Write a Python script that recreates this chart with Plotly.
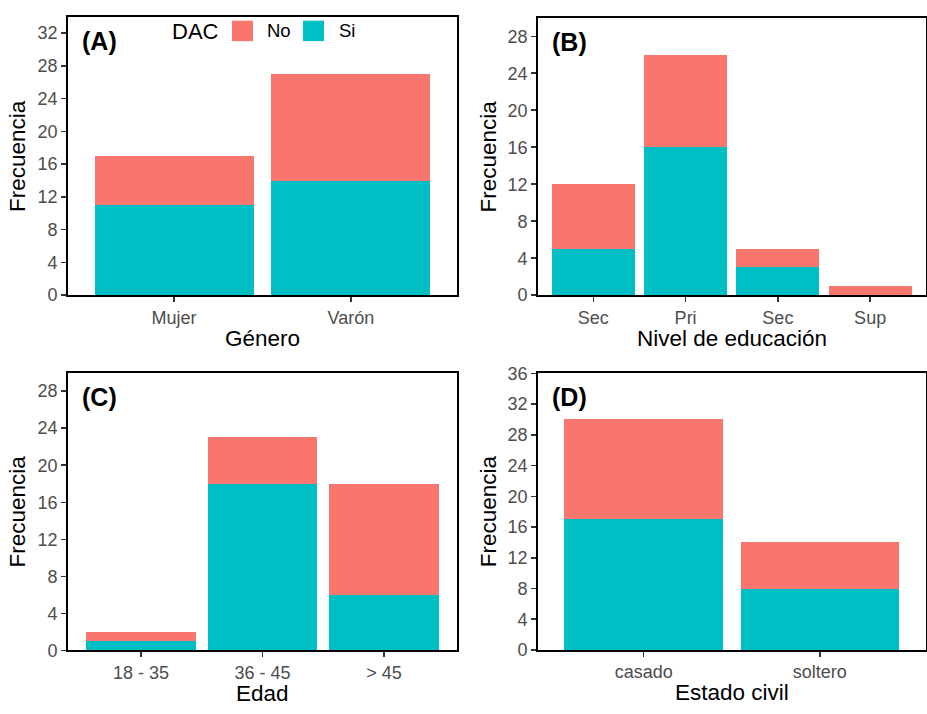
import plotly.graph_objects as go

# ---- data ----
genero_cats = ["Mujer", "Varón"]
genero_si = [11, 14]
genero_no = [6, 13]

educ_cats = ["Sec", "Pri", "Sec", "Sup"]
educ_si = [5, 16, 3, 0]
educ_no = [7, 10, 2, 1]

edad_cats = ["18 - 35", "36 - 45", "> 45"]
edad_si = [1, 18, 6]
edad_no = [1, 5, 12]

civil_cats = ["casado", "soltero"]
civil_si = [17, 8]
civil_no = [13, 6]

y_ticks_A = [0, 4, 8, 12, 16, 20, 24, 28, 32]
y_ticks_B = [0, 4, 8, 12, 16, 20, 24, 28]
y_ticks_C = [0, 4, 8, 12, 16, 20, 24, 28]
y_ticks_D = [0, 4, 8, 12, 16, 20, 24, 28, 32, 36]

COL_NO = "#F8766D"
COL_SI = "#00BFC4"
FONT = "Liberation Sans, Arial, sans-serif"
W, H = 927, 714

panels = [
    dict(cats=genero_cats, si=genero_si, no=genero_no, yt=y_ticks_A, ymax=34,
         box=(68, 457, 8, 294), label="(A)", xtitle="Género"),
    dict(cats=educ_cats, si=educ_si, no=educ_no, yt=y_ticks_B, ymax=30,
         box=(538, 925.5, 9, 294), label="(B)", xtitle="Nivel de educación"),
    dict(cats=edad_cats, si=edad_si, no=edad_no, yt=y_ticks_C, ymax=30,
         box=(68, 457, 373.5, 659), label="(C)", xtitle="Edad"),
    dict(cats=civil_cats, si=civil_si, no=civil_no, yt=y_ticks_D, ymax=36.1,
         box=(538, 925.5, 373.5, 658.5), label="(D)", xtitle="Estado civil"),
]

fig = go.Figure()
annotations = []
shapes = []

def px(x):
    return x / W

def py(y):
    return 1 - y / H

for i, p in enumerate(panels):
    k = "" if i == 0 else str(i + 1)
    xs = list(range(1, len(p["cats"]) + 1))
    fig.add_trace(go.Bar(x=xs, y=p["si"], marker=dict(color=COL_SI, line=dict(width=0)),
                         width=0.9, name="Si", showlegend=False, hoverinfo="skip",
                         xaxis="x" + k, yaxis="y" + k))
    fig.add_trace(go.Bar(x=xs, y=p["no"], marker=dict(color=COL_NO, line=dict(width=0)),
                         width=0.9, name="No", showlegend=False, hoverinfo="skip",
                         xaxis="x" + k, yaxis="y" + k))
    x0, x1, y0, y1 = p["box"]
    common = dict(showgrid=False, zeroline=False, showline=True, linecolor="black",
                  linewidth=1.8, mirror=True, ticks="outside", ticklen=5, tickwidth=1.5,
                  tickcolor="#333333", tickfont=dict(family=FONT, size=18, color="#4D4D4D"))
    fig.update_layout(**{
        "xaxis" + k: dict(domain=[px(x0), px(x1)], range=[0.4, len(xs) + 0.6],
                          tickvals=xs, ticktext=p["cats"], anchor="y" + k,
                          fixedrange=True, **common),
        "yaxis" + k: dict(domain=[py(y1), py(y0)], range=[0, p["ymax"]],
                          tickvals=p["yt"], anchor="x" + k, fixedrange=True, **common),
    })
    annotations.append(dict(text=p["xtitle"], x=px((x0 + x1) / 2), y=py(y1 + 44),
                            xref="paper", yref="paper", showarrow=False,
                            xanchor="center", yanchor="middle",
                            font=dict(family=FONT, size=22.5, color="black")))
    annotations.append(dict(text="Frecuencia", x=px(x0 - 50), y=py((y0 + y1) / 2),
                            xref="paper", yref="paper", showarrow=False, textangle=-90,
                            xanchor="center", yanchor="middle",
                            font=dict(family=FONT, size=22.5, color="black")))
    annotations.append(dict(text="<b>" + p["label"] + "</b>", x=px(x0 + 12), y=py(y0 + 25),
                            xref="paper", yref="paper", showarrow=False,
                            xanchor="left", yanchor="middle",
                            font=dict(family=FONT, size=25, color="black")))

# legend (DAC: No / Si) drawn inside panel A
annotations.append(dict(text="DAC", x=px(170), y=py(23), xref="paper", yref="paper",
                        showarrow=False, xanchor="left", yanchor="middle",
                        font=dict(family=FONT, size=22, color="black")))
for label, col, kx, tx in [("No", COL_NO, 232, 265), ("Si", COL_SI, 303, 337)]:
    shapes.append(dict(type="rect", xref="paper", yref="paper",
                       x0=px(kx), x1=px(kx + 21), y0=py(33), y1=py(12),
                       fillcolor=col, line=dict(width=0)))
    annotations.append(dict(text=label, x=px(tx), y=py(22.5), xref="paper", yref="paper",
                            showarrow=False, xanchor="left", yanchor="middle",
                            font=dict(family=FONT, size=18.5, color="black")))

fig.update_layout(
    width=W, height=H, margin=dict(l=0, r=0, t=0, b=0), autosize=False,
    barmode="stack", plot_bgcolor="white", paper_bgcolor="white",
    showlegend=False, annotations=annotations, shapes=shapes,
    font=dict(family=FONT),
)

fig.write_html(
    "out.html",
    config={"displayModeBar": False, "responsive": False, "staticPlot": True},
    post_script=("document.documentElement.style.margin='0';"
                 "document.documentElement.style.overflow='hidden';"
                 "document.body.style.margin='0';"
                 "document.body.style.overflow='hidden';"),
)
